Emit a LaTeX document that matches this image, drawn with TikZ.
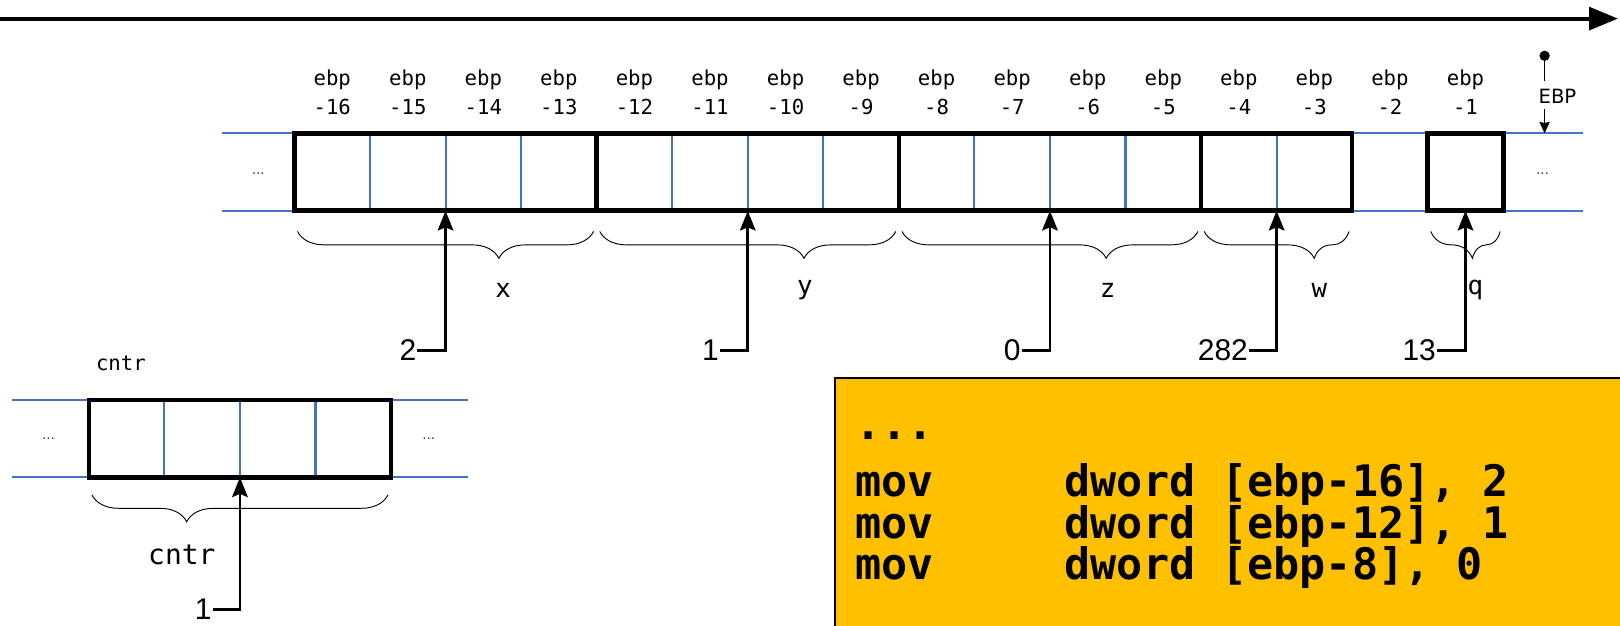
\documentclass[tikz,border=0pt]{standalone}
\usepackage{fontspec}
\setmainfont{Liberation Sans}
\setmonofont{DejaVu Sans Mono}
\newfontfamily\ebpfont{DejaVu Sans}
\usetikzlibrary{arrows.meta,positioning,calc,decorations.pathreplacing}
\definecolor{memblue}{HTML}{4472C4}
\definecolor{codegold}{HTML}{FFC000}

\begin{document}
\begin{tikzpicture}[
        x=1pt, y=-1pt,
        cell/.style={draw=memblue, line width=2pt, minimum width=73.125pt, minimum height=75pt, inner sep=0pt, outer sep=0pt},
        memline/.style={draw=memblue, line width=2pt},
        varbox/.style={draw=black, line width=4.5pt, line join=miter},
        addr/.style={font=\ttfamily\fontsize{20}{28}\selectfont, align=center, inner sep=0pt},
        more/.style={font=\fontsize{15}{15}\selectfont, text=black!75, inner sep=0pt},
        brc/.style={decorate, decoration={brace, mirror, amplitude=26pt}, line width=0.9pt},
        varname/.style={font=\ttfamily\fontsize{25}{25}\selectfont, inner sep=0pt},
        valnum/.style={font=\fontsize{29}{29}\selectfont, inner sep=1pt, anchor=east},
        valarr/.style={draw, line width=2.8pt, -{Stealth[length=19pt, width=15pt, inset=3pt]}},
        code/.style={font=\ttfamily\bfseries\fontsize{42}{40}\selectfont, inner sep=0pt, anchor=base west},
    ]
    \useasboundingbox (0,0) rectangle (1568,605);
    \clip (0,0) rectangle (1568,605);

    % address axis
    \coordinate (t0) at (-5,18);
    \coordinate (t1) at (1566,18);
    \draw[line width=4pt, -{Triangle[length=28pt, width=22pt]}] (t0) -- (t1);

    % stack frame cells
    \foreach \i [evaluate=\i as \off using {int(17-\i)}] in {1,...,16} {
        \node[cell] (c\i) at ({285+(\i-0.5)*73.125}, 166.5) {};
        \node[addr] (a\i) at ({285+(\i-0.5)*73.125}, 89) {ebp\\-\off};
    }
    \coordinate (lt) at (215,129);
    \coordinate (lb) at (215,204);
    \coordinate (rt) at (1532,129);
    \coordinate (rb) at (1532,204);
    \draw[memline] (lt) -- (c1.north west) (lb) -- (c1.south west);
    \draw[memline] (c16.north east) -- (rt) (c16.south east) -- (rb);
    \node[more] (ml) at (250,168) {...};
    \node[more] (mr) at (1493,168) {...};

    \draw[varbox] (c1.north west) rectangle (c4.south east);
    \draw[varbox] (c5.north west) rectangle (c8.south east);
    \draw[varbox] (c9.north west) rectangle (c12.south east);
    \draw[varbox] (c13.north west) rectangle (c14.south east);
    \draw[varbox] (c16.north west) rectangle (c16.south east);

    % EBP marker
    \node[circle, fill, inner sep=0pt, minimum size=10pt] (edot) at (1495,54) {};
    \node[font=\ebpfont\fontsize{19}{19}\selectfont, anchor=west, inner sep=0pt] (elbl) at (1489,93) {EBP};
    \draw[line width=1.2pt] (edot) -- ($(edot |- elbl.north)+(0,-7)$);
    \draw[line width=1.2pt, -{Stealth[length=11pt, width=10pt, inset=1pt]}] ($(edot |- elbl.south)+(0,5)$) -- (edot |- rt);

    % variables
    \draw[brc, decoration={aspect=0.68}] ($(c1.south west)+(3,20)$) -- ($(c4.south east)+(-3,20)$);
    \draw[brc, decoration={aspect=0.69}] ($(c5.south west)+(3,20)$) -- ($(c8.south east)+(-3,20)$);
    \draw[brc, decoration={aspect=0.69}] ($(c9.south west)+(3,20)$) -- ($(c12.south east)+(-3,20)$);
    \draw[brc, decoration={aspect=0.76}] ($(c13.south west)+(3,20)$) -- ($(c14.south east)+(-3,20)$);
    \draw[brc, decoration={aspect=0.6}] ($(c16.south west)+(3,20)$) -- ($(c16.south east)+(-3,20)$);
    \node[varname] (nx) at (487,281) {x};
    \node[varname] (ny) at (779,281) {y};
    \node[varname] (nz) at (1072,281) {z};
    \node[varname] (nw) at (1277,281) {w};
    \node[varname] (nq) at (1428,281) {q};

    % values
    \node[valnum] (v1) at (404,339) {2};
    \node[valnum] (v2) at (697,339) {1};
    \node[valnum] (v3) at (989,339) {0};
    \node[valnum] (v4) at (1209,339) {282};
    \node[valnum] (v5) at (1391,339) {13};
    \draw[valarr] (v1.east) -| (c3.south west);
    \draw[valarr] (v2.east) -| (c7.south west);
    \draw[valarr] (v3.east) -| (c11.south west);
    \draw[valarr] (v4.east) -| (c14.south west);
    \draw[valarr] (v5.east) -| (c16.south);

    % cntr
    \foreach \i in {1,...,4}
        \node[cell] (k\i) at ({86+(\i-0.5)*73.125}, 424.5) {};
    \coordinate (klt) at (12,387);
    \coordinate (klb) at (12,462);
    \coordinate (krt) at (453,387);
    \coordinate (krb) at (453,462);
    \draw[memline] (klt) -- (k1.north west) (klb) -- (k1.south west);
    \draw[memline] (k4.north east) -- (krt) (k4.south east) -- (krb);
    \node[more] (kml) at (47,425) {...};
    \node[more] (kmr) at (415,425) {...};
    \draw[varbox] (k1.north west) rectangle (k4.south east);
    \node[addr] (kl) at (117,352) {cntr};
    \draw[brc, decoration={aspect=0.32}] ($(k1.south west)+(3,17)$) -- ($(k4.south east)+(-3,17)$);
    \node[varname, font=\ttfamily\fontsize{27}{27}\selectfont] (kn) at (176,537) {cntr};
    \node[valnum] (v6) at (206,590) {1};
    \draw[valarr] (v6.east) -| (k3.south west);

    % code
    \draw[line width=2pt, fill=codegold] (808,366) rectangle (1600,640);
    \node[code] (l0) at (828,425) {...};
    \node[code] (l1) at (828,481) {mov\ \ \ \ \ dword [ebp-16], 2};
    \node[code] (l2) at (828,521) {mov\ \ \ \ \ dword [ebp-12], 1};
    \node[code] (l3) at (828,561) {mov\ \ \ \ \ dword [ebp-8], 0};
\end{tikzpicture}
\end{document}
